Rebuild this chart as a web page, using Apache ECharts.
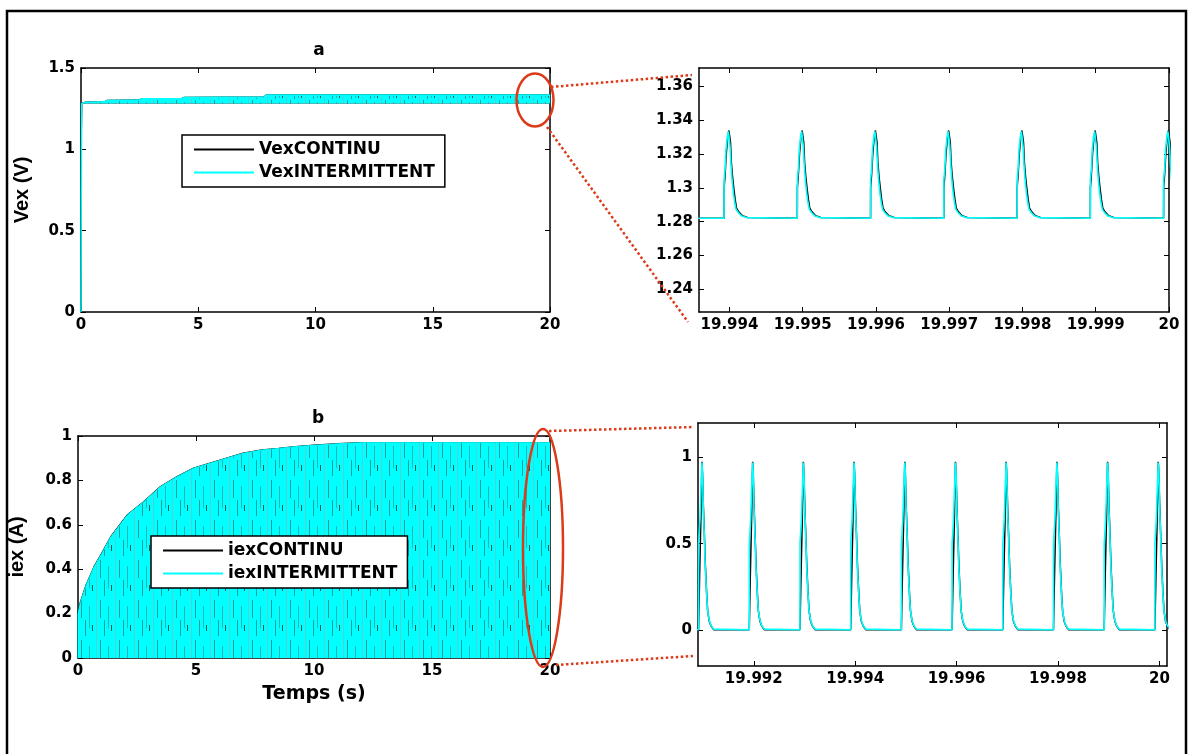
<!DOCTYPE html>
<html>
<head>
<meta charset="utf-8">
<script src="https://cdn.jsdelivr.net/npm/echarts@6/dist/echarts.min.js"></script>
<style>
  html, body { margin: 0; padding: 0; background: #fff; }
  #chart { width: 1188px; height: 754px; }
</style>
</head>
<body>
<div id="chart"></div>
<script>
// ---------------- data ----------------
// (a) excitation voltage over the whole run: ripple band between floor and peak envelope
const vexTime         = [0, 0.01, 0.03, 0.2, 1.0, 1.1, 2.5, 2.6, 4.3, 4.4, 7.8, 7.9, 20];
const vexPeakContinu  = [0, 1.10, 1.282, 1.290, 1.292, 1.300, 1.303, 1.311, 1.313, 1.319, 1.321, 1.3335, 1.3335];
const vexPeakInterm   = [0, 0.70, 1.282, 1.290, 1.292, 1.300, 1.303, 1.311, 1.313, 1.319, 1.321, 1.3335, 1.3335];
const vexFloor = 1.282;

// (a) detail: one pulse per millisecond at the end of the run
const vexZoomStarts = [19.993926, 19.994926, 19.995926, 19.996926, 19.997926, 19.998926, 19.999926];
const vexShapeMsInterm = [0, 0.001, 0.014, 0.027, 0.046, 0.059, 0.082, 0.096, 0.109, 0.127, 0.146, 0.164, 0.196, 0.242, 0.31];
const vexShapeInterm   = [1.282, 1.305, 1.311, 1.323, 1.3305, 1.3335, 1.3246, 1.3128, 1.305, 1.2971, 1.2912, 1.2873, 1.2853, 1.2833, 1.2824];
const vexShapeMsContinu = [0, 0.001, 0.016, 0.030, 0.050, 0.066, 0.088, 0.100, 0.115, 0.135, 0.152, 0.170, 0.200, 0.250, 0.32];
const vexShapeContinu   = [1.282, 1.300, 1.309, 1.320, 1.330, 1.334, 1.327, 1.315, 1.307, 1.299, 1.293, 1.288, 1.2858, 1.2835, 1.2825];

// (b) excitation current over the whole run: pulses fill from 0 up to this envelope
const iexTime = [0, 0.1, 0.35, 0.68, 1.0, 1.4, 2.1, 2.8, 3.5, 4.2, 4.9, 5.6, 6.3, 7.0, 7.8, 8.5, 9.2, 10, 11, 12, 20];
const iexPeak = [0.20, 0.25, 0.33, 0.41, 0.47, 0.547, 0.645, 0.705, 0.772, 0.817, 0.855, 0.877, 0.90, 0.922, 0.937, 0.944, 0.952, 0.958, 0.965, 0.97, 0.97];

// (b) detail
const iexZoomStarts = [19.990911, 19.991911, 19.992911, 19.993911, 19.994911, 19.995911, 19.996911, 19.997911, 19.998911, 19.999911];
const iexShapeMsInterm = [0, 0.001, 0.028, 0.047, 0.067, 0.079, 0.093, 0.112, 0.132, 0.158, 0.178, 0.211, 0.245, 0.296];
const iexShapeInterm   = [0, 0.50, 0.64, 0.81, 0.97, 0.91, 0.71, 0.56, 0.365, 0.21, 0.112, 0.054, 0.025, 0.004];
const iexShapeMsContinu = [0, 0.020, 0.047, 0.067, 0.079, 0.095, 0.115, 0.135, 0.160, 0.180, 0.210, 0.250, 0.300];
const iexShapeContinu   = [0, 0.30, 0.66, 0.975, 0.90, 0.72, 0.55, 0.37, 0.21, 0.11, 0.05, 0.02, 0.0];

// tick positions
const ticksT      = [0, 5, 10, 15, 20];
const ticksVex    = [0, 0.5, 1, 1.5];
const ticksIex    = [0, 0.2, 0.4, 0.6, 0.8, 1];
const ticksVexZx  = [19.994, 19.995, 19.996, 19.997, 19.998, 19.999, 20];
const ticksVexZy  = [1.24, 1.26, 1.28, 1.30, 1.32, 1.34, 1.36];
const ticksIexZx  = [19.992, 19.994, 19.996, 19.998, 20];
const ticksIexZy  = [0, 0.5, 1];

// ---------------- helpers ----------------
const zip = (xs, ys) => xs.map((x, i) => [x, ys[i]]);
function pulseTrain(start, base, starts, offsetsMs, values) {
  const pts = [[start, base]];
  starts.forEach(s => offsetsMs.forEach((o, i) => pts.push([s + o / 1000, values[i]])));
  return pts;
}
const fmt = v => String(Number(v.toFixed(4)));

const FONT_H = 'DejaVu Sans';
const FONT_V = 'Liberation Sans';
const CYAN = '#00ffff';
const BLACK = '#000000';
const RED = '#dc3a18';

// Hatched cyan fill: thousands of overlapping 1 ms pulses render as cyan with teal streaks
function streakFill(w, h) {
  const c = document.createElement('canvas');
  c.width = w; c.height = h;
  const g = c.getContext('2d');
  g.fillStyle = CYAN; g.fillRect(0, 0, w, h);
  g.fillStyle = '#4fd2d2'; g.fillRect(1, 0, 1, h);
  g.fillStyle = '#1c9e9e';
  g.fillRect(5, 0, 1, Math.round(h * 0.45));
  g.fillRect(9, Math.round(h * 0.5), 1, Math.round(h * 0.4));
  g.fillStyle = '#2bb3b3';
  g.fillRect(13, Math.round(h * 0.15), 1, Math.round(h * 0.55));
  g.fillStyle = '#0c5c5c';
  g.fillRect(16, Math.round(h * 0.62), 1, Math.round(h * 0.16));
  return { image: c, repeat: 'repeat' };
}

const tickStyle = { color: '#000', width: 1 };
const lineAxis = { show: true, onZero: false, lineStyle: { color: '#000', width: 1.5 } };
const labelFont = { color: '#000', fontFamily: FONT_H, fontWeight: 'bold', fontSize: 15 };

function xPair(grid, min, max, ticks, name, nameGap) {
  const base = { type: 'value', gridIndex: grid, min, max, splitLine: { show: false }, axisLine: lineAxis };
  return [
    Object.assign({}, base, {
      position: 'bottom',
      axisTick: { inside: true, length: 5, lineStyle: tickStyle, customValues: ticks },
      axisLabel: Object.assign({ customValues: ticks, formatter: fmt, margin: 6 }, labelFont),
      name: name || '', nameLocation: 'middle', nameGap: nameGap || 0,
      nameTextStyle: { color: '#000', fontFamily: FONT_H, fontWeight: 'bold', fontSize: 19 }
    }),
    Object.assign({}, base, {
      position: 'top',
      axisTick: { inside: true, length: 5, lineStyle: tickStyle, customValues: ticks },
      axisLabel: { show: false }
    })
  ];
}
function yPair(grid, min, max, ticks, name, nameGap) {
  const base = { type: 'value', gridIndex: grid, min, max, splitLine: { show: false }, axisLine: lineAxis };
  return [
    Object.assign({}, base, {
      position: 'left',
      axisTick: { inside: true, length: 5, lineStyle: tickStyle, customValues: ticks },
      axisLabel: Object.assign({ customValues: ticks, formatter: fmt, margin: 6 }, labelFont),
      name: name || '', nameLocation: 'middle', nameRotate: 90, nameGap: nameGap || 0,
      nameTextStyle: { color: '#000', fontFamily: FONT_V, fontWeight: 'bold', fontSize: 20 }
    }),
    Object.assign({}, base, {
      position: 'right',
      axisTick: { inside: true, length: 5, lineStyle: tickStyle, customValues: ticks },
      axisLabel: { show: false }
    })
  ];
}

function lineSeries(name, grid, data, color, width, z, area) {
  const s = {
    name, type: 'line', xAxisIndex: 2 * grid, yAxisIndex: 2 * grid, data,
    symbol: 'none', showSymbol: false, smooth: false, sampling: false, clip: true, z,
    lineStyle: { color, width }, itemStyle: { color }, emphasis: { disabled: true }
  };
  if (area) s.areaStyle = Object.assign({ color, opacity: 1 }, area);
  return s;
}

function legendBox(names, left, top) {
  return {
    data: names, left, top, orient: 'vertical', selectedMode: false,
    backgroundColor: '#fff', borderColor: '#000', borderWidth: 1.5, borderRadius: 0,
    padding: [6, 10, 6, 12], itemGap: 6, itemWidth: 60, itemHeight: 2, icon: 'rect',
    textStyle: { color: '#000', fontFamily: FONT_H, fontWeight: 'bold', fontSize: 17 }
  };
}

// ---------------- chart ----------------
const chart = echarts.init(document.getElementById('chart'), null, { renderer: 'canvas' });

const grids = [
  { left: 81,  top: 68,  width: 469, height: 244 },
  { left: 699, top: 68,  width: 470, height: 244 },
  { left: 78,  top: 436, width: 472, height: 222 },
  { left: 698, top: 423, width: 469, height: 243 }
];

const option = {
  animation: false,
  backgroundColor: '#fff',
  grid: grids.map(g => Object.assign({ containLabel: false }, g)),
  title: [
    { text: 'a', left: 314, top: 37, textAlign: 'center',
      textStyle: { fontFamily: FONT_H, fontWeight: 'bold', fontSize: 17, color: '#000' } },
    { text: 'b', left: 313, top: 405, textAlign: 'center',
      textStyle: { fontFamily: FONT_H, fontWeight: 'bold', fontSize: 17, color: '#000' } }
  ],
  legend: [
    legendBox(['VexCONTINU', 'VexINTERMITTENT'], 182, 135),
    legendBox(['iexCONTINU', 'iexINTERMITTENT'], 151, 536)
  ],
  xAxis: [].concat(
    xPair(0, 0, 20, ticksT),
    xPair(1, 19.993584, 20, ticksVexZx),
    xPair(2, 0, 20, ticksT, 'Temps (s)', 27),
    xPair(3, 19.9909, 20.00015, ticksIexZx)
  ),
  yAxis: [].concat(
    yPair(0, 0, 1.5, ticksVex, 'Vex (V)', 49),
    yPair(1, 1.2265, 1.371, ticksVexZy),
    yPair(2, 0, 1, ticksIex, 'iex (A)', 51),
    yPair(3, -0.21, 1.2, ticksIexZy)
  ),
  series: [
    lineSeries('VexCONTINU', 0, zip(vexTime, vexPeakContinu), BLACK, 1.5, 2, { origin: vexFloor }),
    lineSeries('VexINTERMITTENT', 0, zip(vexTime, vexPeakInterm), CYAN, 1.5, 3,
      { origin: vexFloor, color: streakFill(19, 10) }),
    lineSeries('VexCONTINU', 1, pulseTrain(19.9935, vexFloor, vexZoomStarts, vexShapeMsContinu, vexShapeContinu), BLACK, 1.5, 2),
    lineSeries('VexINTERMITTENT', 1, pulseTrain(19.9935, vexFloor, vexZoomStarts, vexShapeMsInterm, vexShapeInterm), CYAN, 1.6, 3),
    lineSeries('iexCONTINU', 2, [[0, 0]].concat(zip(iexTime, iexPeak)), BLACK, 1.5, 2, { origin: 0 }),
    lineSeries('iexINTERMITTENT', 2, [[0, 0]].concat(zip(iexTime, iexPeak)), CYAN, 1, 3,
      { origin: 0, color: streakFill(19, 40) }),
    lineSeries('iexCONTINU', 3, pulseTrain(19.9908, 0, iexZoomStarts, iexShapeMsContinu, iexShapeContinu), BLACK, 1.5, 2),
    lineSeries('iexINTERMITTENT', 3, pulseTrain(19.9908, 0, iexZoomStarts, iexShapeMsInterm, iexShapeInterm), CYAN, 1.6, 3)
  ],
  graphic: [
    // outer frame
    { type: 'rect', z: 100, silent: true, shape: { x: 7, y: 11, width: 1179, height: 780 },
      style: { fill: 'none', stroke: '#000', lineWidth: 2.5 } },
    // callout rings on the overview plots
    { type: 'ellipse', z: 100, silent: true, shape: { cx: 535, cy: 100, rx: 18.5, ry: 26.5 },
      style: { fill: 'none', stroke: RED, lineWidth: 2.5 } },
    { type: 'ellipse', z: 100, silent: true, shape: { cx: 543, cy: 548, rx: 20, ry: 119 },
      style: { fill: 'none', stroke: RED, lineWidth: 2.5 } },
    // dotted leaders to the detail plots
    { type: 'line', z: 100, silent: true, shape: { x1: 551, y1: 87, x2: 692, y2: 75 },
      style: { stroke: RED, lineWidth: 2.5, lineDash: [2.5, 2.5] } },
    { type: 'line', z: 100, silent: true, shape: { x1: 547, y1: 127, x2: 688, y2: 322 },
      style: { stroke: RED, lineWidth: 2.5, lineDash: [2.5, 2.5] } },
    { type: 'line', z: 100, silent: true, shape: { x1: 549, y1: 431, x2: 694, y2: 427 },
      style: { stroke: RED, lineWidth: 2.5, lineDash: [2.5, 2.5] } },
    { type: 'line', z: 100, silent: true, shape: { x1: 556, y1: 665, x2: 693, y2: 656 },
      style: { stroke: RED, lineWidth: 2.5, lineDash: [2.5, 2.5] } }
  ]
};

chart.setOption(option);
</script>
</body>
</html>
